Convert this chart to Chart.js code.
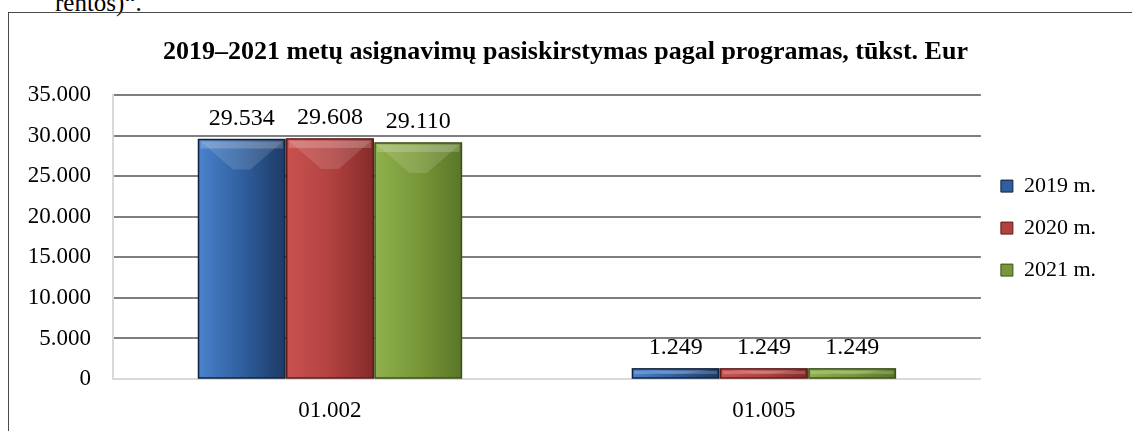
<!DOCTYPE html>
<html>
<head>
<meta charset="utf-8">
<script src="https://cdn.jsdelivr.net/npm/chart.js@4.4.1/dist/chart.umd.min.js"></script>
<style>
  body { margin: 0; background: #fff; width: 1132px; height: 431px; overflow: hidden; position: relative; font-family: 'Liberation Serif', 'Times New Roman', serif; }
  .above { position: absolute; left: 55px; top: -9px; font-size: 25px; line-height: 24px; color: #000; }
  .box { position: absolute; left: 8px; top: 12px; width: 1200px; height: 500px; border: 1px solid #4a4a4a; }
  .chart-wrap { position: absolute; left: 9px; top: 13px; width: 1123px; height: 418px; }
</style>
</head>
<body>
<div class="above">rentos)“.</div>
<div class="box"></div>
<div class="chart-wrap"><canvas id="bar-chart"></canvas></div>
<script>
const categories = ['01.002', '01.005'];
const seriesNames = ['2019 m.', '2020 m.', '2021 m.'];
const values2019 = [29534, 1249];
const values2020 = [29608, 1249];
const values2021 = [29110, 1249];
const yTicks = [0, 5000, 10000, 15000, 20000, 25000, 30000, 35000];

const serif = "'Liberation Serif', 'Times New Roman', serif";
const fmt = v => v.toLocaleString('de-DE');

// colours: [left light, middle, right dark, border]
const palette = [
	['#4a82cc', '#2f5f9f', '#1d3a66', '#10203a'],
	['#c9524f', '#b24240', '#852b29', '#5a1c1b'],
	['#8fb04c', '#789838', '#5a7628', '#3d4f1c'],
];

// bevel + gradient look drawn on top of the library's bars
const bevelBars = {
	id: 'bevelBars',
	afterLayout(chart) {
		// lift legend a little and nudge the title, like the original
		chart.legend.bottom -= 18;
		chart.titleBlock.left += 8;
		chart.titleBlock.right += 8;
	},
	beforeDatasetsDraw(chart) {
		const ctx = chart.ctx;
		ctx.save();
		ctx.shadowColor = 'rgba(0,0,0,0.35)';
		ctx.shadowBlur = 8;
		ctx.shadowOffsetX = 4;
		ctx.shadowOffsetY = 1;
	},
	afterDatasetsDraw(chart) {
		const ctx = chart.ctx;
		ctx.restore();
		chart.data.datasets.forEach((ds, i) => {
			const c = palette[i];
			chart.getDatasetMeta(i).data.forEach(bar => {
				const l = bar.x - bar.width / 2, r = bar.x + bar.width / 2;
				const t = bar.y, b = bar.base;
				const h = b - t;
				ctx.save();
				const g = ctx.createLinearGradient(l, 0, r, 0);
				g.addColorStop(0, c[0]);
				g.addColorStop(0.5, c[1]);
				g.addColorStop(1, c[2]);
				ctx.fillStyle = g;
				ctx.fillRect(l, t, r - l, h);
				// top slanted bevel
				const d = Math.min(30, h * 0.5);
				ctx.beginPath();
				ctx.moveTo(l, t);
				ctx.lineTo(r, t);
				ctx.lineTo(bar.x + bar.width * 0.1, t + d);
				ctx.lineTo(bar.x - bar.width * 0.1, t + d);
				ctx.closePath();
				ctx.fillStyle = 'rgba(255,255,255,0.13)';
				ctx.fill();
				const s = Math.min(7, h * 0.35);
				ctx.fillStyle = 'rgba(255,255,255,0.2)';
				ctx.fillRect(l + 2, t + 2, r - l - 4, s);
				ctx.strokeStyle = c[3];
				ctx.lineWidth = 1.5;
				ctx.strokeRect(l, t, r - l, h);
				ctx.restore();
			});
		});
		// value labels
		ctx.save();
		ctx.font = '24px ' + serif;
		ctx.fillStyle = '#000';
		ctx.textAlign = 'center';
		ctx.textBaseline = 'alphabetic';
		chart.data.datasets.forEach((ds, i) => {
			chart.getDatasetMeta(i).data.forEach((bar, j) => {
				ctx.fillText(fmt(ds.data[j]), bar.x, bar.y - 15);
			});
		});
		ctx.restore();
	}
};

const makeSet = (label, data, i) => ({
	label: label,
	data: data,
	backgroundColor: palette[i][1],
	borderColor: palette[i][3],
	borderWidth: 1,
	categoryPercentage: 0.61,
	barPercentage: 0.98,
});

new Chart(document.getElementById('bar-chart'), {
	type: 'bar',
	data: {
		labels: categories,
		datasets: [
			makeSet(seriesNames[0], values2019, 0),
			makeSet(seriesNames[1], values2020, 1),
			makeSet(seriesNames[2], values2021, 2),
		],
	},
	options: {
		responsive: true,
		maintainAspectRatio: false,
		animation: false,
		layout: { padding: { left: 0, right: 26, top: 0, bottom: 0 } },
		plugins: {
			title: {
				display: true,
				text: '2019–2021 metų asignavimų pasiskirstymas pagal programas, tūkst. Eur',
				color: '#000',
				font: { family: serif, size: 26, weight: 'bold' },
				padding: { top: 24, bottom: 27 },
			},
			legend: {
				position: 'right',
				fullSize: false,
				labels: {
					color: '#000',
					font: { family: serif, size: 22 },
					boxWidth: 12,
					boxHeight: 12,
					padding: 20,
				},
			},
			tooltip: { enabled: false },
		},
		scales: {
			x: {
				grid: { display: false },
				border: { color: '#d9d9d9', width: 2 },
				ticks: { color: '#000', font: { family: serif, size: 23 }, padding: 10 },
				afterFit: s => { s.height = 52; },
			},
			y: {
				min: 0,
				max: 35000,
				afterBuildTicks: s => { s.ticks = yTicks.map(v => ({ value: v })); },
				grid: {
					drawTicks: false,
					color: c => (c.tick && c.tick.value === 0 ? '#d9d9d9' : '#7f7f7f'),
					lineWidth: 2,
				},
				border: { color: '#d9d9d9', width: 2 },
				ticks: {
					color: '#000',
					font: { family: serif, size: 23 },
					padding: 22,
					callback: v => fmt(v),
				},
				afterFit: s => { s.width = 104; },
			},
		},
	},
	plugins: [bevelBars],
});
</script>
</body>
</html>
